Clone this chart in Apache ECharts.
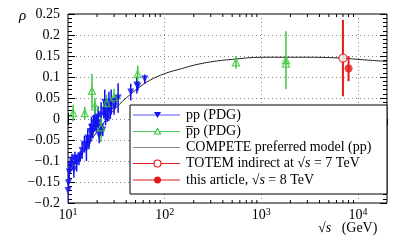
<!DOCTYPE html>
<html><head><meta charset="utf-8">
<script src="https://cdn.jsdelivr.net/npm/echarts@6/dist/echarts.min.js"></script>
<style>html,body{margin:0;padding:0;background:#fff}#c{width:407px;height:242px}</style>
</head><body><div id="c"></div>
<script>
// pp (PDG): sqrt(s) [GeV], rho, error
const ppX   = [10.0, 10.1, 10.3, 10.6, 11.0, 11.5, 11.8, 12.3, 13.0, 13.4, 14.0, 14.8, 15.5, 16.0, 16.5, 17.0, 17.5, 18.0, 18.5, 19.0, 19.4, 19.9, 20.5, 21.0, 21.5, 22.0, 22.9, 23.5, 24.0, 24.5, 25.5, 26.5, 27.4, 28.0, 30.0, 31.0, 33.0, 44.6, 51.5, 52.8, 62.3];
const ppY   = [-0.17, -0.152, -0.126, -0.11, -0.098, -0.12, -0.093, -0.105, -0.095, -0.088, -0.075, -0.06, -0.07, -0.045, -0.057, -0.03, -0.02, -0.031, -0.01, 0.0, -0.015, -0.01, 0.005, -0.038, -0.02, 0.01, -0.026, 0.021, 0.04, 0.005, 0.018, 0.03, 0.02, 0.04, 0.03, 0.042, 0.05, 0.064, 0.081, 0.078, 0.095];
const ppErr = [0.03, 0.02, 0.02, 0.015, 0.015, 0.02, 0.015, 0.02, 0.015, 0.012, 0.02, 0.02, 0.03, 0.02, 0.015, 0.02, 0.025, 0.015, 0.02, 0.03, 0.012, 0.02, 0.025, 0.02, 0.02, 0.03, 0.015, 0.02, 0.03, 0.02, 0.025, 0.035, 0.02, 0.03, 0.02, 0.015, 0.035, 0.02, 0.02, 0.011, 0.011];
// pbar-p (PDG)
const pbX   = [11.3, 14.9, 17.7, 19.0, 22.0, 25.0, 30.0, 52.6, 546, 1800, 1800];
const pbY   = [0.014, 0.014, 0.067, 0.03, -0.02, 0.038, 0.052, 0.107, 0.135, 0.140, 0.132];
const pbErr = [0.02, 0.015, 0.04, 0.02, 0.035, 0.02, 0.02, 0.02, 0.015, 0.069, 0.0];
// COMPETE preferred model (pp)
const cmpX = [10, 15, 20, 30, 40, 55, 70, 100, 150, 200, 300, 500, 1000, 2000, 3000, 7000, 10000, 20000];
const cmpY = [-0.135, -0.07, -0.03, 0.022, 0.05, 0.076, 0.092, 0.108, 0.12, 0.128, 0.136, 0.142, 0.147, 0.147, 0.147, 0.145, 0.142, 0.137];
// TOTEM indirect at 7 TeV, this article at 8 TeV
const totX = [7000], totY = [0.145], totErr = [0.091];
const artX = [8000], artY = [0.12], artErr = [0.03];
// axes
const yMin = -0.2, yMax = 0.25, yStep = 0.05;
const xMin = 10, xMax = 20000;
const xMinor = [20,30,40,50,60,70,80,90,200,300,400,500,600,700,800,900,2000,3000,4000,5000,6000,7000,8000,9000];
const legendNames = ['pp (PDG)', 'p\u0305p (PDG)', 'COMPETE preferred model (pp)', 'TOTEM indirect at {r|√}{i|s} = 7 TeV', 'this article, {r|√}{i|s} = 8 TeV'];

const FONT = '"Liberation Serif", "DejaVu Serif", serif';
const BLUE = '#1010f0', GREEN = '#3cc83c', RED = '#e41a1a';
const LFS = 14;

function zip3(a, b, c) { return a.map((v, i) => [v, b[i], c[i]]); }
function zip2(a, b) { return a.map((v, i) => [v, b[i]]); }
function errRender(color, w) {
  return function (params, api) {
    const x = api.value(0), y = api.value(1), e = api.value(2);
    const p1 = api.coord([x, y - e]), p2 = api.coord([x, y + e]);
    return { type: 'line', shape: { x1: p1[0], y1: p1[1], x2: p2[0], y2: p2[1] }, style: { stroke: color, lineWidth: w } };
  };
}
function supFmt(v) {
  const e = Math.round(Math.log10(v));
  return '10{s|' + e + '}';
}
const chart = echarts.init(document.getElementById('c'), null, { renderer: 'canvas' });
const opt = {
  animation: false,
  backgroundColor: '#fff',
  grid: { left: 68, right: 20, top: 14, bottom: 39, show: true, borderColor: '#000', borderWidth: 1, backgroundColor: 'transparent' },
  xAxis: [{
    type: 'log', logBase: 10, min: xMin, max: xMax,
    axisLine: { show: false },
    axisTick: { inside: true, length: 6, lineStyle: { color: '#000' } },
    splitLine: { show: true, lineStyle: { color: '#888', type: [1, 3], width: 1 } },
    axisLabel: { margin: 4, color: '#000', fontFamily: FONT, fontSize: 14, formatter: supFmt, showMaxLabel: false,
      rich: { s: { fontFamily: FONT, fontSize: 10, verticalAlign: 'top', padding: [0, 0, 6, 0], color: '#000' } } }
  }, {
    type: 'log', logBase: 10, min: xMin, max: xMax, position: 'top',
    axisLine: { show: false }, axisLabel: { show: false }, splitLine: { show: false },
    axisTick: { inside: true, length: 6, lineStyle: { color: '#000' } }
  }],
  yAxis: [{
    type: 'value', min: yMin, max: yMax, interval: yStep,
    axisLine: { show: false },
    axisTick: { inside: true, length: 7, lineStyle: { color: '#000' } },
    minorTick: { show: true, splitNumber: 5, length: 4, lineStyle: { color: '#000' } },
    splitLine: { show: true, lineStyle: { color: '#888', type: [1, 3], width: 1 } },
    axisLabel: { margin: 8, color: '#000', fontFamily: FONT, fontSize: 14,
      formatter: v => { const r = Math.round(v * 100) / 100; return (r < 0 ? '\u2212' : '') + String(Math.abs(r)); } }
  }, {
    type: 'value', min: yMin, max: yMax, interval: yStep, position: 'right',
    axisLine: { show: false }, axisLabel: { show: false }, splitLine: { show: false },
    axisTick: { inside: true, length: 7, lineStyle: { color: '#000' } },
    minorTick: { show: true, splitNumber: 5, length: 4, lineStyle: { color: '#000' } }
  }],
  series: [
    { type: 'custom', name: 'minorX', data: xMinor.map(v => [v]), encode: { x: 0 }, clip: false, silent: true, z: 3,
      renderItem: function (params, api) {
        const b = api.coord([api.value(0), yMin]), t = api.coord([api.value(0), yMax]);
        return { type: 'group', children: [
          { type: 'line', shape: { x1: b[0], y1: b[1], x2: b[0], y2: b[1] - 3 }, style: { stroke: '#000', lineWidth: 1 } },
          { type: 'line', shape: { x1: t[0], y1: t[1], x2: t[0], y2: t[1] + 3 }, style: { stroke: '#000', lineWidth: 1 } }
        ] };
      } },
    { type: 'line', name: 'COMPETE', data: zip2(cmpX, cmpY), smooth: 0.4, showSymbol: false, symbol: 'none',
      lineStyle: { color: '#222', width: 1 }, z: 2, silent: true },
    { type: 'custom', name: 'ppErr', data: zip3(ppX, ppY, ppErr), encode: { x: 0, y: 1 }, clip: true, renderItem: errRender(BLUE, 1.5), z: 4 },
    { type: 'custom', name: 'pbErr', data: zip3(pbX, pbY, pbErr), encode: { x: 0, y: 1 }, clip: true, renderItem: errRender(GREEN, 1.5), z: 4 },
    { type: 'custom', name: 'totErr', data: zip3(totX, totY, totErr), encode: { x: 0, y: 1 }, clip: true, renderItem: errRender(RED, 2), z: 4 },
    { type: 'custom', name: 'artErr', data: zip3(artX, artY, artErr), encode: { x: 0, y: 1 }, clip: true, renderItem: errRender(RED, 2), z: 4 },
    { type: 'scatter', name: 'pp', data: zip2(ppX, ppY), symbol: 'triangle', symbolRotate: 180, symbolSize: 7,
      itemStyle: { color: BLUE }, z: 5 },
    { type: 'scatter', name: 'pb', data: zip2(pbX, pbY), symbol: 'triangle', symbolSize: 7,
      itemStyle: { color: 'rgba(255,255,255,0)', borderColor: GREEN, borderWidth: 1.3 }, z: 5 },
    { type: 'scatter', name: 'totem', data: zip2(totX, totY), symbol: 'circle', symbolSize: 8,
      itemStyle: { color: '#fff', borderColor: RED, borderWidth: 1.3 }, z: 5 },
    { type: 'scatter', name: 'art', data: zip2(artX, artY), symbol: 'circle', symbolSize: 8,
      itemStyle: { color: RED }, z: 5 }
  ],
  graphic: []
};
// legend box and entries
const LX = 130, LY = 105, LW = 257, LH = 89;
const rowY = [115, 131.5, 147.5, 163.5, 180];
const lineCols = ['#5a5aff', '#55cc55', '#888', RED, RED];
const g = [];
g.push({ type: 'rect', shape: { x: LX, y: LY, width: LW, height: LH }, style: { fill: '#fff', stroke: '#000', lineWidth: 1 }, z: 100 });
legendNames.forEach((nm, i) => {
  g.push({ type: 'line', shape: { x1: 133, y1: rowY[i], x2: 180, y2: rowY[i] }, style: { stroke: lineCols[i], lineWidth: 1.2 }, z: 101 });
  g.push({ type: 'text', x: 186, y: rowY[i], style: { text: nm, fontFamily: FONT, fontSize: LFS, fill: '#000', verticalAlign: 'middle',
    rich: { r: { fontFamily: FONT, fontSize: LFS }, i: { fontFamily: FONT, fontSize: LFS, fontStyle: 'italic' } } }, z: 101 });
});
g.push({ type: 'polygon', shape: { points: [[154, rowY[0] - 3], [161, rowY[0] - 3], [157.5, rowY[0] + 3]] }, style: { fill: BLUE }, z: 102 });
g.push({ type: 'polygon', shape: { points: [[154.5, rowY[1] + 2.5], [160.5, rowY[1] + 2.5], [157.5, rowY[1] - 3]] }, style: { fill: '#fff', stroke: GREEN, lineWidth: 1.2 }, z: 102 });
g.push({ type: 'circle', shape: { cx: 157.5, cy: rowY[3], r: 3.5 }, style: { fill: '#fff', stroke: RED, lineWidth: 1.2 }, z: 102 });
g.push({ type: 'circle', shape: { cx: 157.5, cy: rowY[4], r: 3.5 }, style: { fill: RED }, z: 102 });
// axis names
g.push({ type: 'text', x: 19, y: 9, style: { text: 'ρ', fontFamily: FONT, fontSize: 15, fontStyle: 'italic', fill: '#000' }, z: 100 });
g.push({ type: 'text', x: 318, y: 221, style: { text: '{r|√}{i|s}   (GeV)', fontFamily: FONT, fontSize: 14, fill: '#000',
  rich: { r: { fontFamily: FONT, fontSize: 14 }, i: { fontFamily: FONT, fontSize: 14, fontStyle: 'italic' } } }, z: 100 });
opt.graphic = g;
chart.setOption(opt);
</script>
</body></html>
